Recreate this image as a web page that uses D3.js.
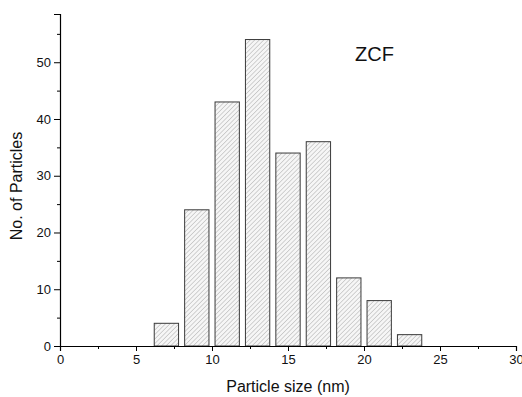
<!DOCTYPE html>
<html>
<head>
<meta charset="utf-8">
<script src="https://cdn.jsdelivr.net/npm/d3@7"></script>
<style>
  body { margin: 0; background: #fff; }
  text { font-family: "Liberation Sans", Arial, sans-serif; fill: #111; }
</style>
</head>
<body>
<div id="chart"></div>
<script>
// histogram bins (nm) and counts
const binCenters = [7, 9, 11, 13, 15, 17, 19, 21, 23];
const counts = [4, 24, 43, 54, 34, 36, 12, 8, 2];
const xTicks = [0, 5, 10, 15, 20, 25, 30];
const yTicks = [0, 10, 20, 30, 40, 50];
const sampleLabel = 'ZCF';

const W = 522, H = 397;
const margin = { top: 14, right: 6, bottom: 51, left: 60 };
const binWidth = 1.6;

const svg = d3.select('#chart').append('svg')
  .attr('width', W)
  .attr('height', H);

// hatch pattern for the bars
const defs = svg.append('defs');
const pat = defs.append('pattern')
  .attr('id', 'hatch')
  .attr('patternUnits', 'userSpaceOnUse')
  .attr('width', 3.2)
  .attr('height', 3.2)
  .attr('patternTransform', 'rotate(45)');
pat.append('rect').attr('width', 3.2).attr('height', 3.2).attr('fill', '#f6f6f6');
pat.append('line')
  .attr('x1', 0).attr('y1', 0).attr('x2', 0).attr('y2', 3.2)
  .attr('stroke', '#8c8c8c').attr('stroke-width', 0.7);

const x = d3.scaleLinear().domain([0, 30]).range([margin.left, W - margin.right]);
const y = d3.scaleLinear().domain([0, 58.5]).range([H - margin.bottom, margin.top]);

// bars
svg.append('g').selectAll('rect')
  .data(binCenters)
  .enter().append('rect')
  .attr('x', d => x(d - binWidth / 2))
  .attr('y', (d, i) => y(counts[i]))
  .attr('width', d => x(d + binWidth / 2) - x(d - binWidth / 2))
  .attr('height', (d, i) => y(0) - y(counts[i]))
  .attr('fill', 'url(#hatch)')
  .attr('stroke', '#3a3a3a')
  .attr('stroke-width', 1);

// x axis: major + minor ticks
const xAxis = svg.append('g')
  .attr('transform', `translate(0,${y(0)})`)
  .call(d3.axisBottom(x).tickValues(xTicks).tickSize(5).tickPadding(4))
  .call(g => g.select('.domain').attr('stroke', '#000').attr('stroke-width', 1.2));
xAxis.selectAll('text').style('font-size', '13px');
svg.append('g')
  .attr('transform', `translate(0,${y(0)})`)
  .call(d3.axisBottom(x).tickValues(d3.range(2.5, 30, 5)).tickSize(3).tickFormat(''))
  .call(g => g.select('.domain').remove());

// y axis: major + minor ticks
const yAxis = svg.append('g')
  .attr('transform', `translate(${x(0)},0)`)
  .call(d3.axisLeft(y).tickValues(yTicks).tickSize(6).tickPadding(3))
  .call(g => g.select('.domain').attr('stroke', '#000').attr('stroke-width', 1.2));
yAxis.selectAll('text').style('font-size', '13px');
svg.append('g')
  .attr('transform', `translate(${x(0)},0)`)
  .call(d3.axisLeft(y).tickValues(d3.range(5, 58, 10)).tickSize(3).tickFormat(''))
  .call(g => g.select('.domain').remove());

svg.selectAll('.tick line').attr('stroke', '#000');

// axis titles
svg.append('text')
  .attr('x', 288)
  .attr('y', 392)
  .attr('text-anchor', 'middle')
  .style('font-size', '16px')
  .text('Particle size (nm)');

svg.append('text')
  .attr('transform', 'translate(22,186) rotate(-90)')
  .attr('text-anchor', 'middle')
  .style('font-size', '16px')
  .text('No. of Particles');

svg.append('text')
  .attr('x', 355)
  .attr('y', 61)
  .style('font-size', '20px')
  .text(sampleLabel);
</script>
</body>
</html>
